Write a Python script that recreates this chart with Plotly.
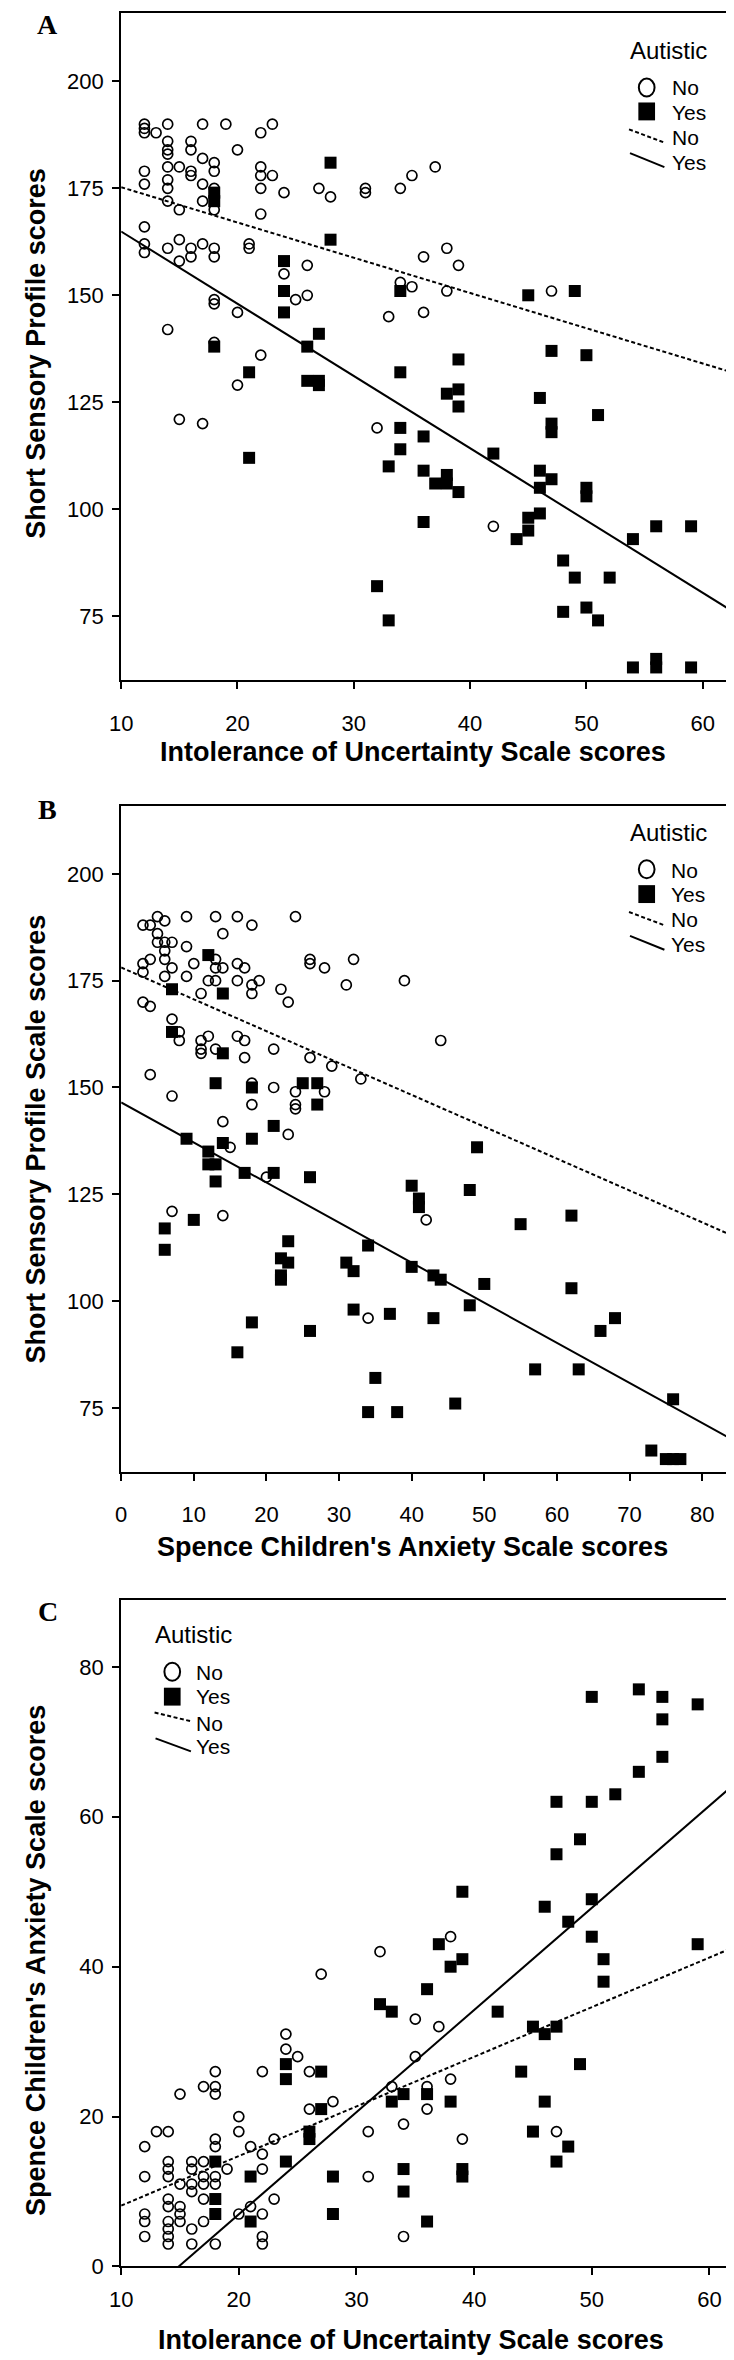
import plotly.graph_objects as go

W, H = 734, 2360

# ---------------- Panel A: IUS vs SSP ----------------
a_no_x = [12,12,12,12,12,12,12,12, 13,
          14,14,14,14,14,14,14,14,14,14,
          15,15,15,15,15, 16,16,16,16,16,16, 17,17,17,17,17,17,
          18,18,18,18,18,18,18,18,18, 19, 20,20,20, 21,21,
          22,22,22,22,22,22, 23,23, 24,24, 25, 26,26, 27, 28, 31,31,
          32, 33, 34,34, 35,35, 36,36, 37, 38,38, 39, 42, 47]
a_no_y = [190,189,188,179,176,166,162,160, 188,
          190,186,184,183,180,177,175,172,161,142,
          180,170,163,158,121, 186,184,179,178,161,159, 190,182,176,172,162,120,
          181,179,175,170,161,159,149,148,139, 190, 184,146,129, 162,161,
          188,180,178,175,169,136, 190,178, 174,155, 149, 157,150, 175, 173, 175,174,
          119, 145, 175,153, 178,152, 159,146, 180, 161,151, 157, 96, 151]
a_yes_x = [18,18,18,21,21,24,24,24,26,26,27,27,27,28,28,32,33,33,34,34,34,34,
           36,36,36,37,38,38,38,39,39,39,39,42,44,45,45,45,46,46,46,46,
           47,47,47,47,48,48,49,49,50,50,50,50,51,51,52,54,54,56,56,56,59,59]
a_yes_y = [174,172,138,132,112,158,151,146,138,130,141,130,129,181,163,82,110,74,151,132,119,114,
           117,109,97,106,127,108,106,135,128,124,104,113,93,150,98,95,126,109,105,99,
           137,120,118,107,88,76,151,84,136,105,103,77,122,74,84,93,63,96,65,63,96,63]
a_fit_intercept = [183.5, 181.8]   # No, Yes
a_fit_slope = [-0.824, -1.689]

# ---------------- Panel B: SCAS vs SSP ----------------
b_no_x = [3,3,3,3, 4,4,4,4, 5,5,5, 6,6,6,6,6, 7,7,7,7,7, 8,8, 9,9,9, 10,
          11,11,11,11, 12,12, 13,13,13,13,13, 14,14,14,14, 15, 16,16,16,16,
          17,17,17, 18,18,18,18,18, 19, 20, 21,21, 22, 23,23, 24,24,24,24,
          26,26,26, 28,28, 29, 31, 32, 33, 34, 39, 42, 44]
b_no_y = [188,179,177,170, 188,180,169,153, 190,186,184, 189,184,182,180,176, 184,178,166,148,121, 163,161,
          190,183,176, 179, 172,161,159,158, 175,162, 190,180,178,175,159, 186,178,142,120, 136,
          190,179,175,162, 178,161,157, 188,174,172,151,146, 175, 129, 159,150, 173, 170,139,
          190,149,146,145, 180,179,157, 178,149, 155, 174, 180, 152, 96, 175, 119, 161]
b_yes_x = [6,6,7,7,9,10,12,12,12,13,13,13,14,14,14,16,17,18,18,18,21,21,22,22,22,23,23,
           25,26,26,27,27,31,32,32,34,34,35,37,38,40,40,41,41,43,43,44,46,48,48,49,50,
           55,57,62,62,63,66,68,73,75,76,76,77]
b_yes_y = [117,112,173,163,138,119,181,135,132,151,132,128,172,158,137,88,130,150,138,95,141,130,110,106,105,114,109,
           151,129,93,151,146,109,107,98,113,74,82,97,74,127,108,124,122,106,96,105,76,126,99,136,104,
           118,84,120,103,84,93,96,65,63,77,63,63]
b_fit_intercept = [178.1, 146.5]
b_fit_slope = [-0.746, -0.938]

# ---------------- Panel C: IUS vs SCAS ----------------
c_no_x = [12,12,12,12,12, 13, 14,14,14,14,14,14,14,14,14,14, 15,15,15,15,15,
          16,16,16,16,16,16, 17,17,17,17,17,17, 18,18,18,18,18,18,18,18, 19,
          20,20,20, 21,21, 22,22,22,22,22,22, 23,23, 24,24, 25, 26,26, 27, 28,
          31,31, 32, 33, 34,34, 35,35, 36,36, 37, 38,38, 39, 47]
c_no_y = [16,12,7,6,4, 18, 18,14,13,12,9,8,6,5,4,3, 23,11,8,7,6,
          14,13,11,10,5,3, 24,14,12,11,9,6, 26,24,23,17,16,12,11,3, 13,
          20,18,7, 16,8, 26,15,13,7,4,3, 17,9, 31,29, 28, 26,21, 39, 22,
          18,12, 42, 24, 19,4, 33,28, 24,21, 32, 44,25, 17, 18]
c_yes_x = [18,18,18,21,21,24,24,24,26,26,27,27,28,28,32,33,33,34,34,34,36,36,36,37,38,38,
           39,39,39,39,42,44,45,45,46,46,46,47,47,47,47,48,48,49,49,50,50,50,50,51,51,52,
           54,54,56,56,56,59,59]
c_yes_y = [14,9,7,12,6,27,25,14,18,17,26,21,12,7,35,34,22,23,13,10,37,23,6,43,40,22,
           50,41,13,12,34,26,32,18,48,31,22,62,55,32,14,46,16,57,27,76,62,49,44,41,38,63,
           77,66,76,73,68,75,43]
c_fit_intercept = [1.5, -20.3]
c_fit_slope = [0.662, 1.363]

# tick values / labels
a_xticks = [10, 20, 30, 40, 50, 60]
a_yticks = [75, 100, 125, 150, 175, 200]
b_xticks = [0, 10, 20, 30, 40, 50, 60, 70, 80]
b_yticks = [75, 100, 125, 150, 175, 200]
c_xticks = [10, 20, 30, 40, 50, 60]
c_yticks = [0, 20, 40, 60, 80]

panel_letters = ["A", "B", "C"]
x_titles = ["Intolerance of Uncertainty Scale scores",
            "Spence Children's Anxiety Scale scores",
            "Intolerance of Uncertainty Scale scores"]
y_titles = ["Short Sensory Profile scores",
            "Short Sensory Profile Scale scores",
            "Spence Children's Anxiety Scale scores"]
legend_title = "Autistic"
group_names = ["No", "Yes"]

# ---------------- layout geometry (pixels) ----------------
SANS = "Liberation Sans, Arial, Helvetica, sans-serif"
SERIF = "Liberation Serif, Times New Roman, serif"

panels = [
    dict(no=(a_no_x, a_no_y), yes=(a_yes_x, a_yes_y), b0=a_fit_intercept, b1=a_fit_slope,
         xr=[10, 62.7], yr=[60, 216], xt=a_xticks, yt=a_yticks, xstand=15,
         box=(103, 727, 5, 676), letter=(28, 17), ytitle=(16, 347), xtitle=(400, 748),
         leg=dict(title=(660, 43), circ=(638, 80), sq=(638, 104), dash=((620, 122), (655, 135)),
                  solid=((621, 146), (656, 160)), tx=662, ty=[80, 105, 130, 155])),
    dict(no=(b_no_x, b_no_y), yes=(b_yes_x, b_yes_y), b0=b_fit_intercept, b1=b_fit_slope,
         xr=[0, 84.4], yr=[60, 216], xt=b_xticks, yt=b_yticks, xstand=15,
         box=(103, 727, 802, 1472), letter=(28, 806), ytitle=(16, 1137), xtitle=(400, 1548),
         leg=dict(title=(660, 829), circ=(638, 866), sq=(638, 891), dash=((620, 909), (655, 922)),
                  solid=((621, 933), (656, 947)), tx=661, ty=[867, 891, 917, 942])),
    dict(no=(c_no_x, c_no_y), yes=(c_yes_x, c_yes_y), b0=c_fit_intercept, b1=c_fit_slope,
         xr=[10, 62.6], yr=[0, 88.9], xt=c_xticks, yt=c_yticks, xstand=5,
         box=(103, 733, 1601, 2271), letter=(28, 1612), ytitle=(16, 1963), xtitle=(398, 2345),
         leg=dict(title=(177, 1636), circ=(155, 1673), sq=(155, 1698), dash=((137, 1714), (175, 1723)),
                  solid=((138, 1740), (174, 1753)), tx=177, ty=[1674, 1698, 1725, 1748])),
]


def fx(p):
    return p / W


def fy(p):
    return 1 - p / H


fig = go.Figure()
shapes = []
annotations = []

for i, p in enumerate(panels):
    n = "" if i == 0 else str(i + 1)
    xa, ya = "x" + n, "y" + n
    x0, x1, y0, y1 = p["box"]
    # scatter markers
    fig.add_trace(go.Scatter(x=p["no"][0], y=p["no"][1], mode="markers", xaxis=xa, yaxis=ya,
                             name="No", showlegend=False, cliponaxis=False,
                             marker=dict(symbol="circle-open", size=10, color="black",
                                         line=dict(width=1.7, color="black"))))
    fig.add_trace(go.Scatter(x=p["yes"][0], y=p["yes"][1], mode="markers", xaxis=xa, yaxis=ya,
                             name="Yes", showlegend=False, cliponaxis=False,
                             marker=dict(symbol="square", size=12, color="black",
                                         line=dict(width=0))))
    # fit lines over the axis range
    for g, dash in enumerate(["4px,2.5px", "solid"]):
        xs = list(p["xr"])
        ys = [p["b0"][g] + p["b1"][g] * v for v in xs]
        fig.add_trace(go.Scatter(x=xs, y=ys, mode="lines", xaxis=xa, yaxis=ya,
                                 showlegend=False, name=group_names[g] + " fit",
                                 line=dict(color="black", width=2, dash=dash)))
    axcommon = dict(showline=True, mirror=True, linecolor="black", linewidth=2,
                    ticks="outside", ticklen=7, tickwidth=2, tickcolor="black",
                    showgrid=False, zeroline=False,
                    tickfont=dict(family=SANS, size=22, color="black"))
    fig.layout["xaxis" + n] = dict(domain=[fx(x0), fx(x1)], range=p["xr"], anchor=ya,
                                   tickvals=p["xt"], ticklabelstandoff=p["xstand"], **axcommon)
    fig.layout["yaxis" + n] = dict(domain=[fy(y1), fy(y0)], range=p["yr"], anchor=xa,
                                   tickvals=p["yt"], ticklabelstandoff=4, **axcommon)

    # panel letter
    annotations.append(dict(x=fx(p["letter"][0]), y=fy(p["letter"][1]), xref="paper", yref="paper",
                            text="<b>%s</b>" % panel_letters[i], showarrow=False,
                            font=dict(family=SERIF, size=28, color="black"),
                            xanchor="center", yanchor="middle"))
    # axis titles
    annotations.append(dict(x=fx(p["ytitle"][0]), y=fy(p["ytitle"][1]), xref="paper", yref="paper",
                            text="<b>%s</b>" % y_titles[i], showarrow=False, textangle=-90,
                            font=dict(family=SANS, size=27, color="black"),
                            xanchor="center", yanchor="middle"))
    annotations.append(dict(x=fx(p["xtitle"][0]), y=fy(p["xtitle"][1]), xref="paper", yref="paper",
                            text="<b>%s</b>" % x_titles[i], showarrow=False,
                            font=dict(family=SANS, size=27, color="black"),
                            xanchor="center", yanchor="middle"))
    # custom legend
    L = p["leg"]
    annotations.append(dict(x=fx(L["title"][0]), y=fy(L["title"][1]), xref="paper", yref="paper",
                            text=legend_title, showarrow=False,
                            font=dict(family=SANS, size=24, color="black"),
                            xanchor="center", yanchor="middle"))
    cx, cy = L["circ"]
    shapes.append(dict(type="circle", xref="paper", yref="paper",
                       x0=fx(cx - 8), x1=fx(cx + 8), y0=fy(cy + 9), y1=fy(cy - 9),
                       line=dict(color="black", width=2)))
    sx, sy = L["sq"]
    shapes.append(dict(type="rect", xref="paper", yref="paper",
                       x0=fx(sx - 8.5), x1=fx(sx + 8.5), y0=fy(sy + 9), y1=fy(sy - 9),
                       line=dict(width=0), fillcolor="black"))
    (dx0, dy0), (dx1, dy1) = L["dash"]
    shapes.append(dict(type="line", xref="paper", yref="paper",
                       x0=fx(dx0), y0=fy(dy0), x1=fx(dx1), y1=fy(dy1),
                       line=dict(color="black", width=2, dash="4px,2.5px")))
    (lx0, ly0), (lx1, ly1) = L["solid"]
    shapes.append(dict(type="line", xref="paper", yref="paper",
                       x0=fx(lx0), y0=fy(ly0), x1=fx(lx1), y1=fy(ly1),
                       line=dict(color="black", width=2)))
    for k, t in enumerate(["No", "Yes", "No", "Yes"]):
        annotations.append(dict(x=fx(L["tx"]), y=fy(L["ty"][k]), xref="paper", yref="paper",
                                text=t, showarrow=False,
                                font=dict(family=SANS, size=21, color="black"),
                                xanchor="left", yanchor="middle"))

fig.update_layout(width=W, height=H, margin=dict(l=0, r=0, t=0, b=0),
                  paper_bgcolor="white", plot_bgcolor="white",
                  showlegend=False, shapes=shapes, annotations=annotations)

fig.write_html("out.html")
